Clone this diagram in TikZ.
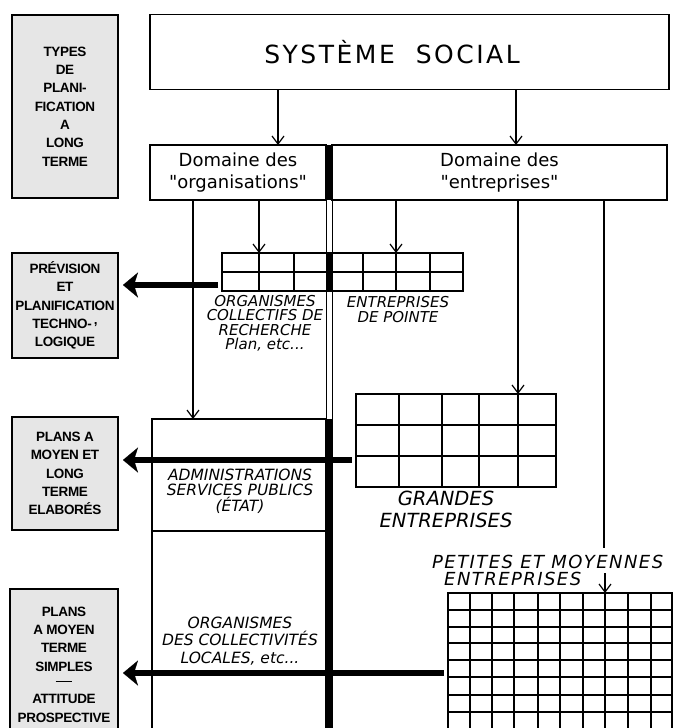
\documentclass[tikz,border=0pt]{standalone}
\usepackage{fontspec}
\setmainfont{DejaVu Sans}[Ligatures=TeXOff]
\newfontfamily\boxfont{Liberation Sans}
\usetikzlibrary{arrows.meta}

\begin{document}
\begin{tikzpicture}[x=1pt,y=-1pt,line cap=rect,
  framebox/.style={draw, line width=1.8pt, inner sep=0, outer sep=0, align=center},
  sidebox/.style={draw, line width=1.8pt, fill=custcol_side, minimum width=106, inner sep=0, outer sep=0, align=center, font=\boxfont\bfseries\fontsize{13.5pt}{18.3pt}\selectfont\addfontfeatures{LetterSpace=-2.5}},
  cellbox/.style={draw, line width=1.2pt, inner sep=0, outer sep=0},
  cell/.style={line width=1.2pt},
  itlabel/.style={inner sep=0, outer sep=0, align=center, font=\itshape\fontsize{15pt}{14.5pt}\selectfont},
  arr/.style={line width=1.2pt, -{Straight Barb[length=8pt,width=12pt,line width=1.2pt]}},
  bigarr/.style={line width=5.5pt, line cap=butt, -{Stealth[length=15pt,width=25pt,inset=4pt,line width=0.1pt]}, shorten <=4pt, shorten >=5pt}]
\useasboundingbox (0,0) rectangle (675,728);
\definecolor{custcol_side}{RGB}{230, 230, 230}
% side column
\node[sidebox, minimum height=183] (types) at (65,106.5) {TYPES\\DE\\PLANI-\\FICATION\\A\\LONG\\TERME};
\node[sidebox, minimum height=105] (prev) at (65,305.5) {PRÉVISION\\ET\\PLANIFICATION\\TECHNO-\,\raisebox{4pt}{,}\\LOGIQUE};
\node[sidebox, minimum height=113] (moyen) at (65,473.5) {PLANS A\\MOYEN ET\\LONG\\TERME\\ELABORÉS};
\node[sidebox, minimum height=151, minimum width=108] (simple) at (64,664.5) {PLANS\\A MOYEN\\TERME\\SIMPLES\\[-3pt]\rule[4pt]{17pt}{1.5pt}\\[-1pt]ATTITUDE\\PROSPECTIVE};
\node[framebox, minimum width=519, minimum height=75] (sys) at (409.5,52) {\fontsize{25pt}{28pt}\selectfont\addfontfeatures{LetterSpace=10}SYSTÈME\hspace{21pt}SOCIAL\hspace{35pt}};
\node[framebox, minimum width=176, minimum height=55, font=\fontsize{18pt}{22pt}\selectfont] (orgdom) at (238,172.5) {Domaine des\\"organisations"};
\node[framebox, minimum width=335, minimum height=55, font=\fontsize{18pt}{22pt}\selectfont] (entdom) at (499.5,172.5) {Domaine des\\"entreprises"};
\node[cellbox, minimum width=174, minimum height=112] (admin) at (239,475) {};
\node[cellbox, minimum width=174, minimum height=209] (coll) at (239,635.5) {};
\node[cellbox, minimum width=241, minimum height=38] (rech) at (342.5,272) {};
\node[cellbox, minimum width=200, minimum height=93] (grandes) at (456,440.5) {};
\node[cellbox, minimum width=224, minimum height=147] (pme) at (560,666.5) {};
\draw[cell] (rech.west) -- (rech.east);
\foreach \x in {259,294,363,396,430} \draw[cell] (\x,253) -- (\x,291);
\foreach \x in {399,442,479,518} \draw[cell] (\x,394) -- (\x,487);
\foreach \y in {425,456} \draw[cell] (356,\y) -- (556,\y);
\foreach \x in {470,492,514,538,560,583,605,628,651} \draw[cell] (\x,593) -- (\x,740);
\foreach \y in {610,627,643,660,677,695,712} \draw[cell] (448,\y) -- (672,\y);
% the dividing bar
\draw[line width=1pt] (orgdom.north east) -- (orgdom.east |- pme.south);
\draw[line width=1pt] (entdom.north west) -- (entdom.west |- pme.south);
\fill (orgdom.north east) rectangle (entdom.south west);
\fill (orgdom.east |- rech.north) rectangle (entdom.west |- rech.south);
\fill (admin.north east) rectangle (entdom.west |- pme.south);
\node[itlabel] (rechtxt) at (265,323.5) {ORGANISMES\\COLLECTIFS DE\\RECHERCHE\\Plan, etc...};
\node[itlabel] (pointetxt) at (398,309.5) {ENTREPRISES\\DE POINTE};
\node[itlabel, font=\itshape\fontsize{15.5pt}{15.5pt}\selectfont] (admintxt) at (240,491) {ADMINISTRATIONS\\SERVICES PUBLICS\\(ÉTAT)};
\node[itlabel, font=\itshape\fontsize{15.5pt}{17.5pt}\selectfont] (colltxt) at (240,641) {ORGANISMES\\DES COLLECTIVITÉS\\LOCALES, etc...};
\node[itlabel, font=\itshape\fontsize{19.5pt}{21.5pt}\selectfont] (grtxt) at (446,509.5) {GRANDES\\ENTREPRISES};
\node[inner sep=0, anchor=base west, font=\itshape\fontsize{18pt}{18pt}\selectfont\addfontfeatures{LetterSpace=8}] (pmetxtA) at (432,568) {PETITES ET MOYENNES};
\node[inner sep=0, anchor=base west, font=\itshape\fontsize{18pt}{18pt}\selectfont\addfontfeatures{LetterSpace=8}] (pmetxtB) at (444,585) {ENTREPRISES};
\coordinate (xs1) at (278,0);
\coordinate (xs2) at (516,0);
\coordinate (xa) at (193,0);
\coordinate (xb) at (259,0);
\coordinate (xc) at (396,0);
\coordinate (xd) at (518,0);
\coordinate (xe) at (604,0);
\coordinate (pmeend) at (604,547);
\coordinate (pmestart) at (605,574);
\coordinate (r1) at (0,285);
\coordinate (r2) at (0,460);
\coordinate (r3) at (0,673);
\draw[arr] (sys.south -| xs1) -- (orgdom.north -| xs1);
\draw[arr] (sys.south -| xs2) -- (entdom.north -| xs2);
\draw[arr] (orgdom.south -| xa) -- (admin.north -| xa);
\draw[arr] (orgdom.south -| xb) -- (rech.north -| xb);
\draw[arr] (entdom.south -| xc) -- (rech.north -| xc);
\draw[arr] (entdom.south -| xd) -- (grandes.north -| xd);
\draw[line width=1.2pt] (entdom.south -| xe) -- (pmeend);
\draw[arr] (pmestart) -- (pme.north -| pmestart);
\draw[bigarr] (rech.west |- r1) -- (prev.east |- r1);
\draw[bigarr] (grandes.west |- r2) -- (moyen.east |- r2);
\draw[bigarr] (pme.west |- r3) -- (simple.east |- r3);
\end{tikzpicture}
\end{document}
